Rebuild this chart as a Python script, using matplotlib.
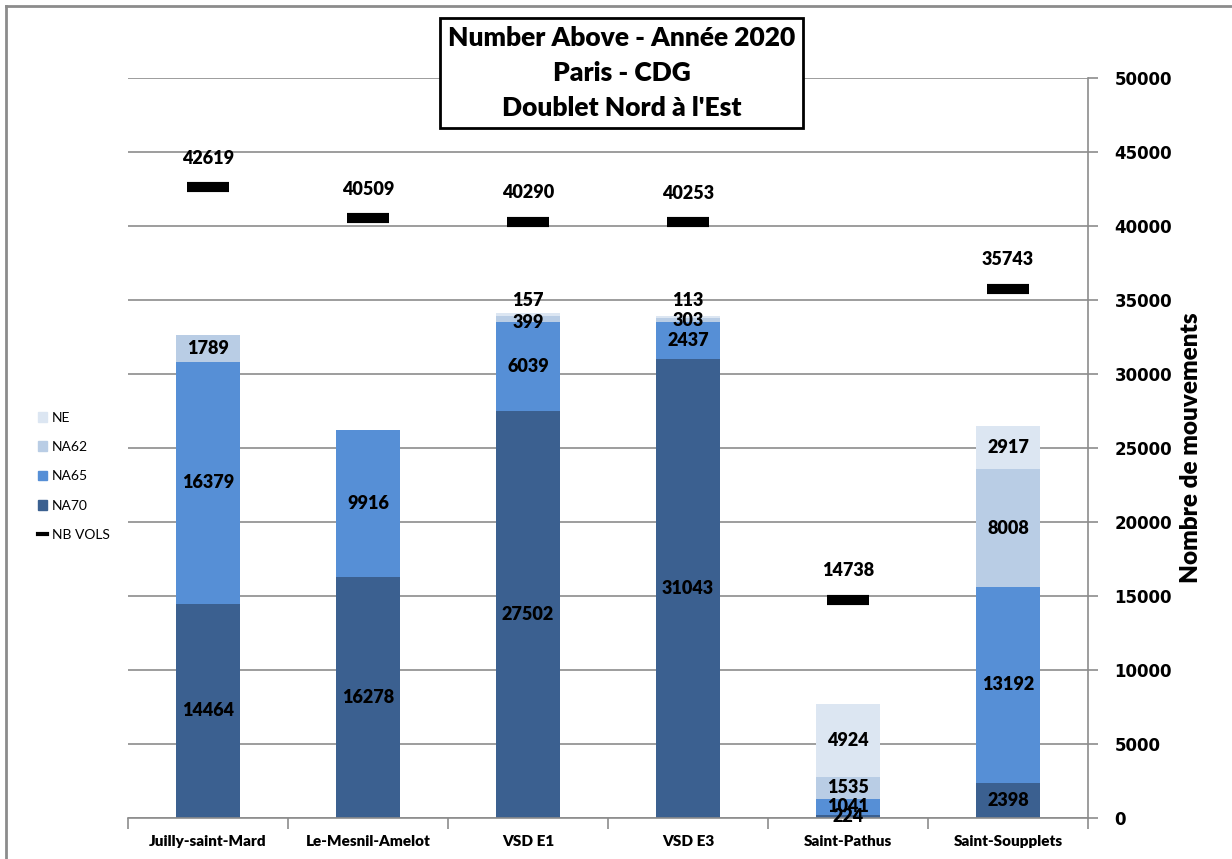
import matplotlib
matplotlib.use("Agg")
import matplotlib.pyplot as plt
from matplotlib.patches import Patch
from matplotlib.lines import Line2D
import numpy as np

categories = ["Juilly-saint-Mard", "Le-Mesnil-Amelot", "VSD E1", "VSD E3", "Saint-Pathus", "Saint-Soupplets"]
na70 = [14464, 16278, 27502, 31043, 224, 2398]
na65 = [16379, 9916, 6039, 2437, 1041, 13192]
na62 = [1789, 0, 399, 303, 1535, 8008]
ne = [0, 0, 157, 113, 4924, 2917]
nb_vols = [42619, 40509, 40290, 40253, 14738, 35743]
yticks = [0, 5000, 10000, 15000, 20000, 25000, 30000, 35000, 40000, 45000, 50000]

series = [("NA70", na70, "#3B6090"), ("NA65", na65, "#568FD6"),
          ("NA62", na62, "#B9CDE5"), ("NE", ne, "#DCE6F2")]

LABEL_FONT = "Lato"
W = "heavy"
fig = plt.figure(figsize=(12.32, 8.59), dpi=100)
ax = fig.add_axes([128/1232, 1-818/859, 960/1232, 740/859])

x = np.arange(len(categories))
bottom = np.zeros(len(categories))
# offsets (points) for crowded small labels
label_offsets = {("NE", 2): 10, ("NE", 3): 12, ("NA62", 2): -3}
for name, vals, col in series:
    vals = np.array(vals, dtype=float)
    ax.bar(x, vals, width=0.4, bottom=bottom, color=col, zorder=2)
    for i, v in enumerate(vals):
        if v > 0:
            off = label_offsets.get((name, i), 0)
            ax.annotate(f"{int(v)}", (x[i], bottom[i] + v/2), xytext=(0, off),
                        textcoords="offset points", ha="center", va="center",
                        fontsize=13, fontweight=W, family=LABEL_FONT, zorder=4)
    bottom += vals

ax.plot(x, nb_vols, linestyle="none", marker="_", markersize=30, mew=7.3, color="black", zorder=3)
for i, v in enumerate(nb_vols):
    ax.annotate(f"{v}", (x[i], v), xytext=(0, 21), textcoords="offset points",
                ha="center", va="center", fontsize=13, fontweight=W, family=LABEL_FONT)

ax.set_xlim(-0.5, len(categories) - 0.5)
ax.set_ylim(0, 50000)
ax.set_yticks(yticks)
ax.yaxis.tick_right()
ax.yaxis.set_label_position("right")
ax.tick_params(axis="y", direction="out", length=7, color="#8C8C8C", width=1.2, pad=12)
for lab in ax.get_yticklabels():
    lab.set_fontweight("bold")
    lab.set_fontsize(12)
    lab.set_family("DejaVu Sans")
ax.set_ylabel("Nombre de mouvements", fontsize=17.5, fontweight=W, family=LABEL_FONT, labelpad=6)

ax.set_xticks(x)
ax.set_xticklabels(categories, fontsize=11, fontweight=W, family=["Lato"])
ax.tick_params(axis="x", length=0, pad=12)
ax.set_xticks(np.arange(len(categories) + 1) - 0.5, minor=True)
ax.tick_params(axis="x", which="minor", length=8, direction="out", color="#8C8C8C", width=1.2)

ax.grid(axis="y", color="#8C8C8C", linewidth=1.2, zorder=0)
ax.set_axisbelow(True)
for s in ["top", "left"]:
    ax.spines[s].set_visible(False)
ax.spines["right"].set_color("#8C8C8C")
ax.spines["right"].set_linewidth(1.2)
ax.spines["bottom"].set_color("#8C8C8C")
ax.spines["bottom"].set_linewidth(1.2)

# legend
handles = [Patch(color="#DCE6F2"), Patch(color="#B9CDE5"), Patch(color="#568FD6"),
           Patch(color="#3B6090"), Line2D([], [], color="black", lw=3)]
labels = ["NE", "NA62", "NA65", "NA70", "NB VOLS"]
leg = fig.legend(handles, labels, loc="upper left", bbox_to_anchor=(25/1232, 1-399/859),
                 frameon=False, handlelength=0.7, handleheight=0.7,
                 handletextpad=0.35, labelspacing=1.25, prop={"family": "Lato", "size": 10})

# title box
fig.text(621.5/1232, 1-73/859, "Number Above - Année 2020\nParis - CDG\nDoublet Nord à l'Est",
         ha="center", va="center", fontsize=19, fontweight=W, family=LABEL_FONT,
         linespacing=1.55,
         bbox=dict(boxstyle="square,pad=0.3", fc="white", ec="black", lw=2))

# outer border (left and top)
fig.add_artist(Line2D([6/1232, 6/1232], [0, 1-6/859], color="#8C8C8C", lw=2, transform=fig.transFigure))
fig.add_artist(Line2D([6/1232, 1], [1-6/859, 1-6/859], color="#8C8C8C", lw=2, transform=fig.transFigure))

fig.savefig("out.png", dpi=100)
